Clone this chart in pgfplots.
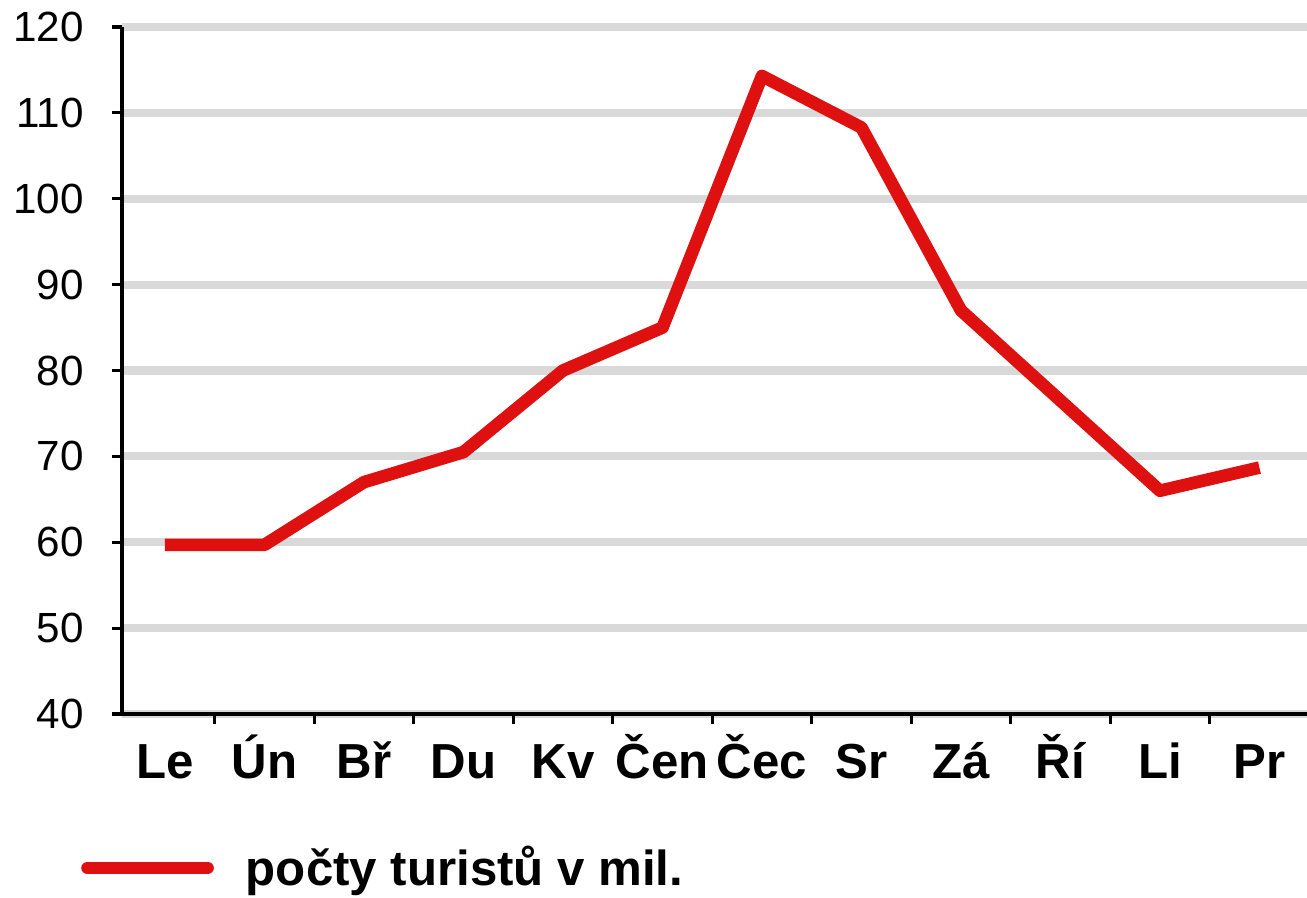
\documentclass[border=0pt]{standalone}
\usepackage{pgfplots}
\pgfplotsset{compat=1.18}
\usepackage{fontspec}
\setmainfont{Liberation Sans}
\definecolor{gridgray}{RGB}{217,217,217}
\definecolor{linered}{RGB}{222,16,16}
\begin{document}
\begin{tikzpicture}
\useasboundingbox (-1.22cm,-1.83cm) rectangle (11.85cm,7.14cm);
\begin{axis}[
  scale only axis, width=11.85cm, height=6.87cm,
  xmin=-0.432, xmax=11.478, ymin=40, ymax=120,
  axis x line*=bottom, axis y line*=left,
  ytick={40,50,...,120},
  xtick={0,...,11},
  xticklabels={Le,Ún,Bř,Du,Kv,Čen,Čec,Sr,Zá,Ří,Li,Pr},
  minor xtick={0.5,1.5,...,10.5},
  major x tick style={draw=none},
  tick align=outside,
  major tick length=0.1cm, minor tick length=0.1cm,
  x tick label style={font=\fontsize{14}{16}\selectfont\bfseries, text height=12pt, text depth=0pt},
  y tick label style={font=\fontsize{12}{14}\selectfont, xshift=-0.16cm},
  /pgf/number format/assume math mode=true,
  ymajorgrids, grid style={gridgray, line width=2.3pt},
  axis line style={line width=0.9pt},
  tick style={black, line width=0.9pt},
  legend style={at={(axis description cs:-0.035,-0.224)}, anchor=west, draw=none, fill=none,
    font=\fontsize{14}{16}\selectfont\bfseries, inner sep=0pt},
  legend cell align=left,
  legend image code/.code={\draw[#1, line width=3.6pt, line cap=round] (0cm,0cm) -- (1.2cm,0cm); \path (1.45cm,0cm);},
]
\addplot[linered, line width=3.6pt, line join=round, mark=none] coordinates {
  (0,59.7) (1,59.7) (2,67) (3,70.5) (4,80) (5,85) (6,114.3) (7,108.3) (8,87) (9,76.5) (10,66) (11,68.7)
};
\addlegendentry{počty turistů v mil.}
\end{axis}
\end{tikzpicture}
\end{document}
